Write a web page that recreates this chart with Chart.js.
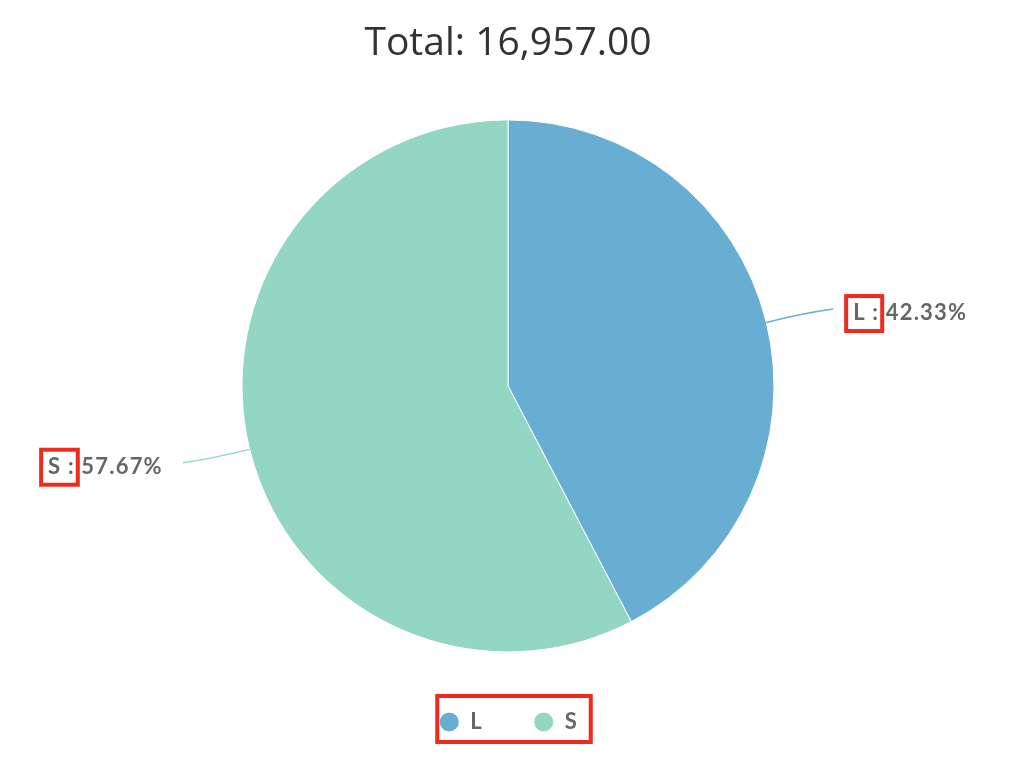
<!DOCTYPE html>
<html>
<head>
<meta charset="utf-8">
<script src="https://cdn.jsdelivr.net/npm/chart.js@4/dist/chart.umd.min.js"></script>
<style>
  html, body { margin: 0; padding: 0; background: #fff; }
  #wrap { width: 1024px; height: 762px; }
</style>
</head>
<body>
<div id="wrap"><canvas id="grafico"></canvas></div>
<script>
const rotulos = ["L", "S"];
const valores = [7178, 9779];
const cores = ["#67aed2", "#93d6c3"];

const total = valores.reduce((a, b) => a + b, 0);

// rotulos de fora com linha curva + caixas vermelhas
const rotulosFora = {
  id: "rotulosFora",
  afterDraw(chart) {
    const ctx = chart.ctx;
    const meta = chart.getDatasetMeta(0);
    ctx.save();
    ctx.font = "bold 22px Lato";
    ctx.letterSpacing = "1.2px";
    ctx.textBaseline = "middle";
    ctx.textAlign = "left";
    meta.data.forEach((arc, i) => {
      const { x, y, startAngle, endAngle, outerRadius } = arc.getProps(["x", "y", "startAngle", "endAngle", "outerRadius"], true);
      const meio = (startAngle + endAngle) / 2;
      const cos = Math.cos(meio), sin = Math.sin(meio);
      const x0 = x + cos * outerRadius, y0 = y + sin * outerRadius;
      const x1 = x + cos * (outerRadius + 40), y1 = y + sin * (outerRadius + 40);
      const lado = cos >= 0 ? 1 : -1;
      const x2 = x1 + lado * 28, y2 = y1 + sin * 16;

      ctx.strokeStyle = cores[i];
      ctx.lineWidth = 1.5;
      ctx.beginPath();
      ctx.moveTo(x0, y0);
      ctx.quadraticCurveTo(x1, y1, x2, y2);
      ctx.stroke();

      const texto = rotulos[i] + " : " + (valores[i] / total * 100).toFixed(2) + "%";
      const larg = ctx.measureText(texto).width;
      const tx = lado > 0 ? x2 + 20 : x2 - 20 - larg;
      const ty = y2 + 4;
      ctx.fillStyle = "#666";
      ctx.fillText(texto, tx, ty);

      const wCaixa = ctx.measureText(rotulos[i] + " :").width;
      ctx.strokeStyle = "#ee2b1f";
      ctx.lineWidth = 4;
      ctx.strokeRect(tx - 7, ty - 17, wCaixa + 10, 35);
    });

    // caixa em volta da legenda
    const hb = chart.legend.legendHitBoxes;
    if (hb && hb.length) {
      const ult = hb[hb.length - 1];
      const cy = hb[0].top + 11;
      ctx.strokeStyle = "#ee2b1f";
      ctx.lineWidth = 4;
      ctx.strokeRect(hb[0].left - 2, cy - 26, ult.left + ult.width - hb[0].left + 16, 46);
    }
    ctx.restore();
  }
};

new Chart(document.getElementById("grafico"), {
  type: "pie",
  data: {
    labels: rotulos,
    datasets: [{
      data: valores,
      backgroundColor: cores,
      borderColor: "#fff",
      borderWidth: 1,
      radius: 266
    }]
  },
  options: {
    responsive: true,
    maintainAspectRatio: false,
    animation: false,
    layout: { padding: { left: 0, right: 8, top: 0, bottom: 19 } },
    plugins: {
      title: {
        display: true,
        text: "Total: " + total.toLocaleString("en-US", { minimumFractionDigits: 2, maximumFractionDigits: 2 }),
        color: "#333",
        font: { family: "'Open Sans'", size: 39, weight: "normal" },
        padding: { top: 20, bottom: 46 }
      },
      legend: {
        position: "bottom",
        labels: {
          usePointStyle: true,
          pointStyle: "circle",
          pointStyleWidth: 20,
          boxHeight: 14,
          padding: 52,
          color: "#666",
          font: { family: "Lato", size: 22, weight: "bold" }
        }
      }
    }
  },
  plugins: [rotulosFora]
});
</script>
</body>
</html>
